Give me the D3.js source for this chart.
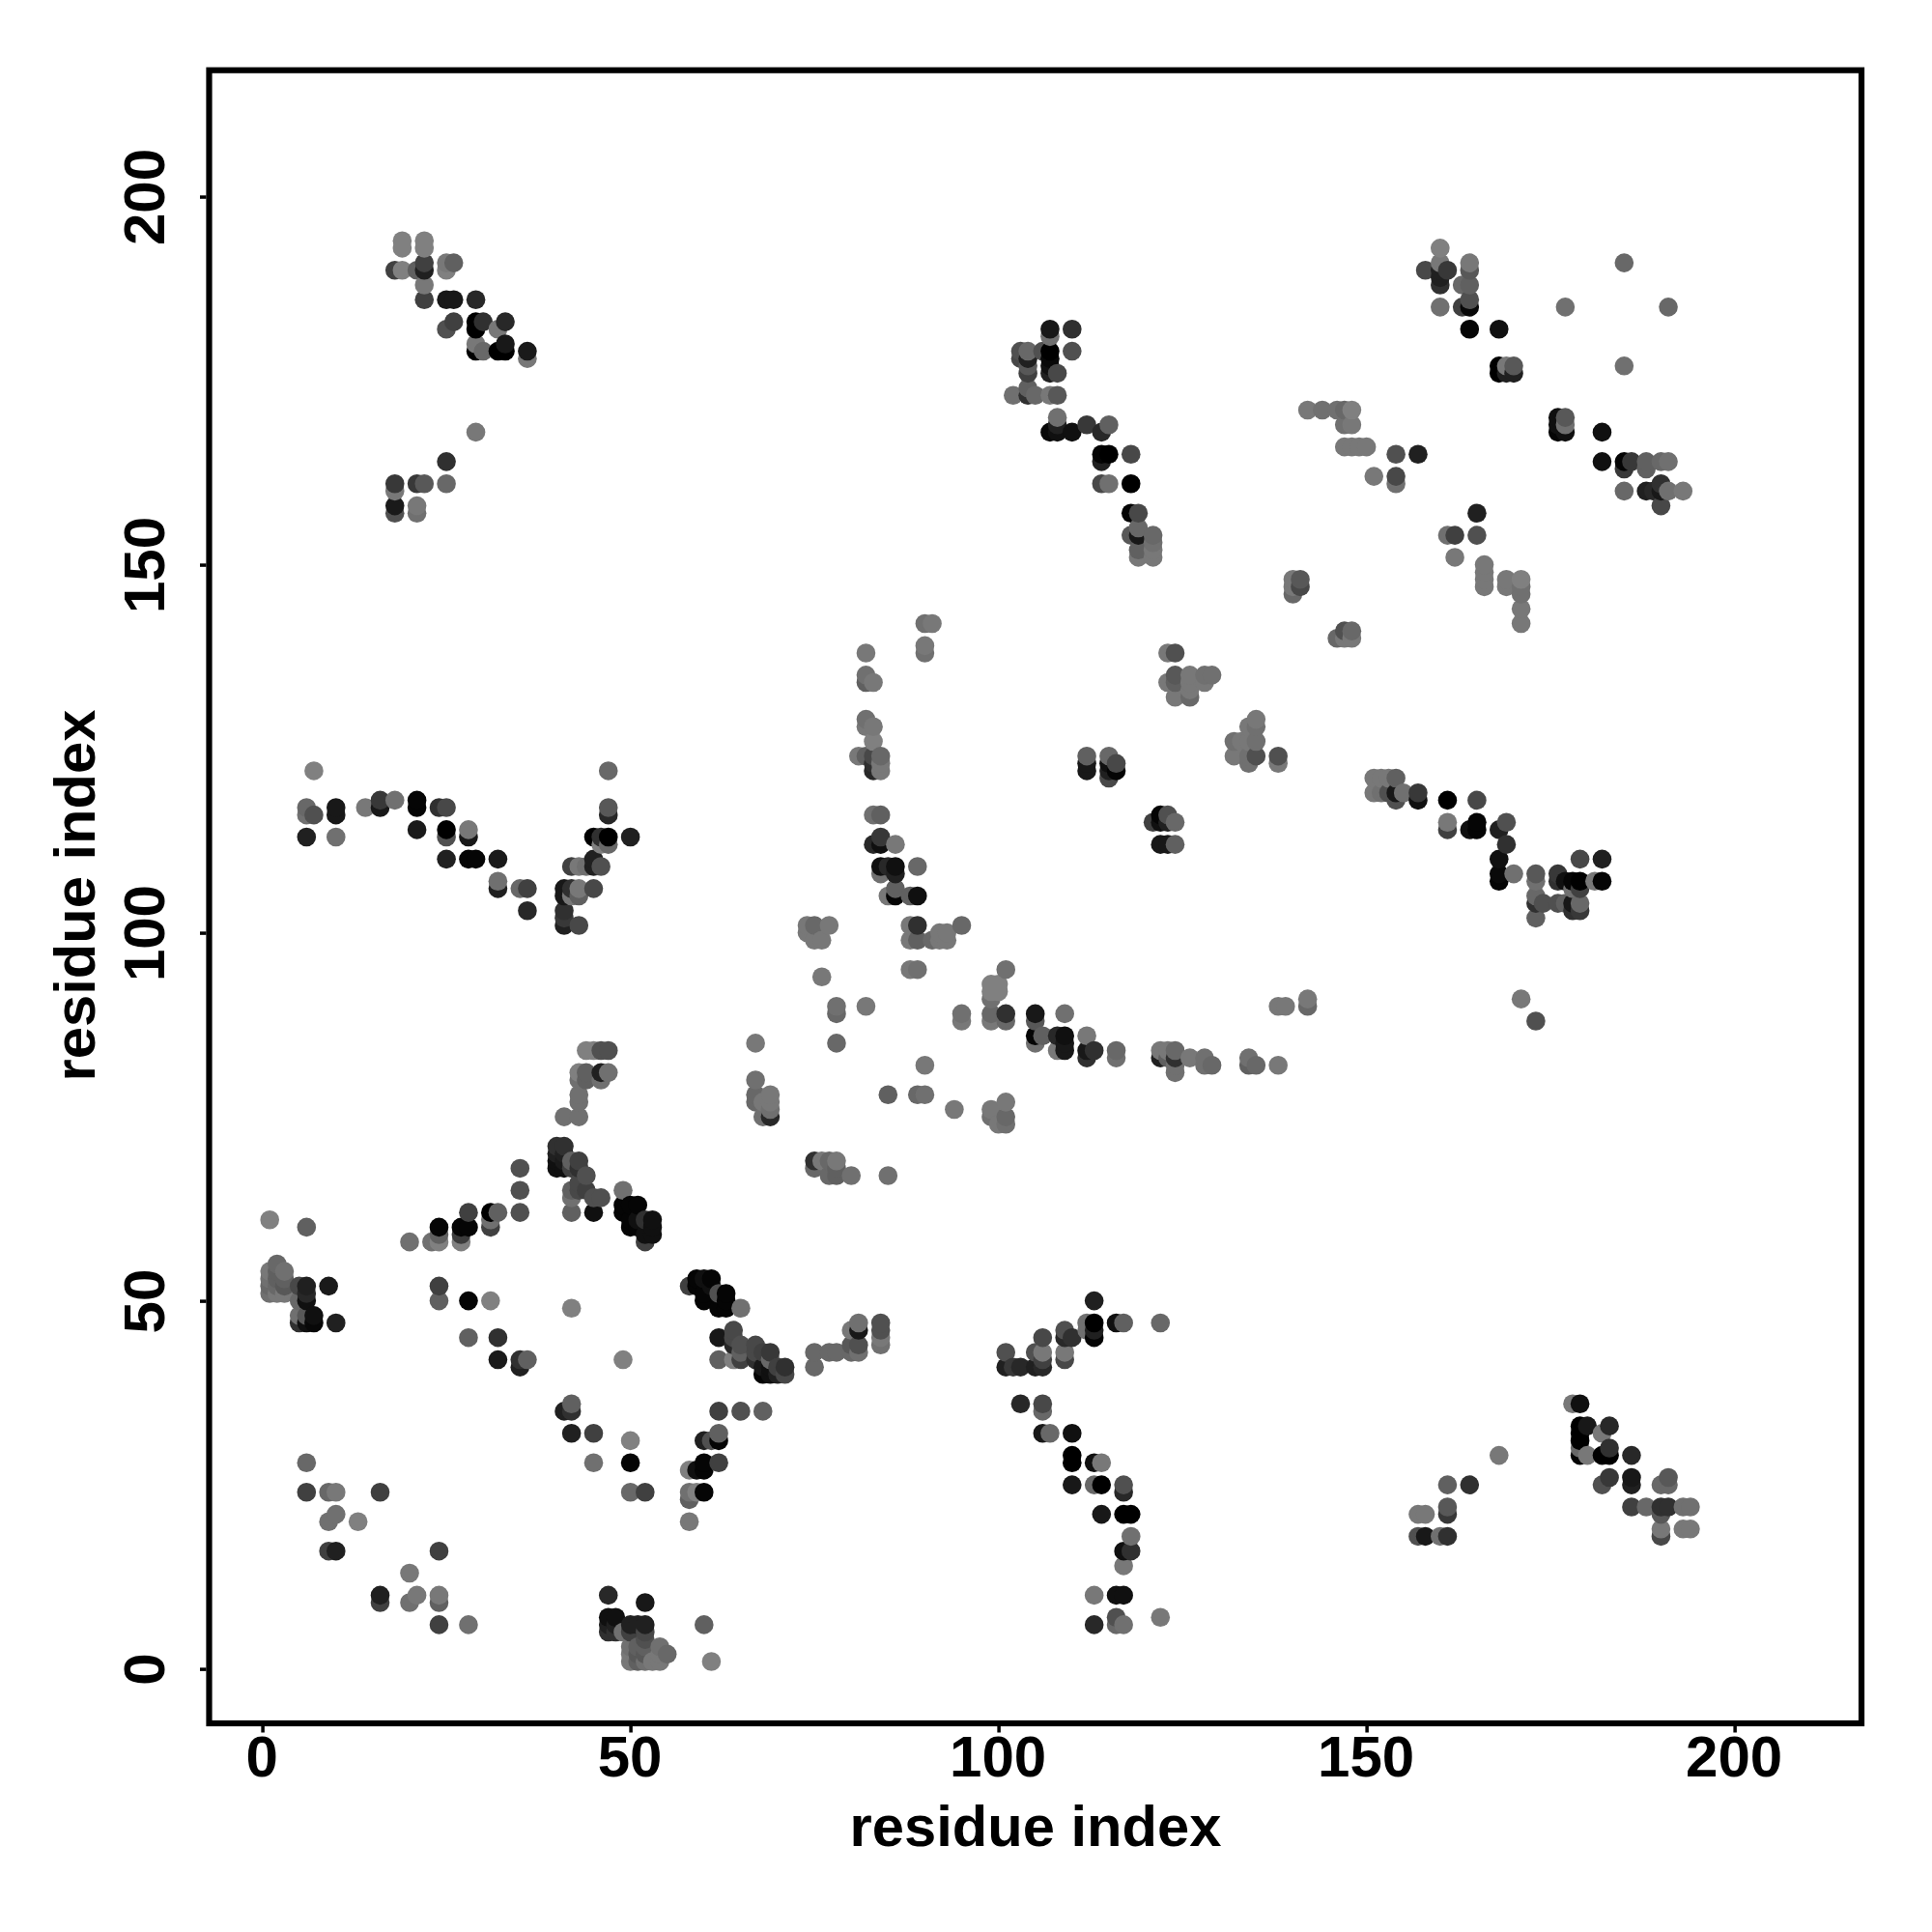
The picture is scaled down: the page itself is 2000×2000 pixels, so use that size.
<!DOCTYPE html>
<html>
<head>
<meta charset="utf-8">
<script src="https://cdnjs.cloudflare.com/ajax/libs/d3/7.8.5/d3.min.js"></script>
<style>
html,body{margin:0;padding:0;background:#fff}
svg{display:block}
text{font-family:"Liberation Sans",Arial,Helvetica,sans-serif;font-weight:bold;fill:#000}
</style>
</head>
<body>
<script>
// each entry: [residue i, residue j, grey level 0..128]
const tickValues = [0, 50, 100, 150, 200];
const xAxisTitle = "residue index";
const yAxisTitle = "residue index";

const helixStart = [[1,61,128],[6,60,96],[1,54,120],[1,53,112],[1,52,104],[1,51,112],[2,55,104],[2,54,96],[2,53,96],[2,52,104],[2,51,120],[3,54,112],[3,53,96],[3,52,88],[3,51,120],
[5,52,72],[5,50,104],[5,48,112],[5,47,48],[6,52,32],[6,51,40],[6,50,16],[6,48,88],[6,47,16],[7,48,16],[7,47,8],[9,52,26],[10,47,32],
[20,58,112],[23,58,112],[24,60,5],[24,59,96],[24,58,128],[27,60,5],[27,59,60],[27,58,128],[28,60,5],[28,62,64],[31,62,0],[31,61,112],[31,60,64],[32,62,96],[35,62,80],[35,65,80],[35,68,80],
[24,52,64],[24,50,96],[28,50,5],[31,50,128],[28,45,96],[32,45,48],[32,42,26],[35,42,48],[35,41,32],[36,42,96]];

const strandTop = [[44,84,128],[45,84,128],[46,84,80],[47,84,80],[43,81,128],[44,81,96],[43,80,112],[44,80,96],[46,81,32],[46,80,112],[47,81,112],[43,78,112],[43,77,112],[41,75,112],[43,75,112],
[40,71,48],[40,70,32],[40,69,16],[40,68,16],[41,71,48],[41,70,32],[41,69,26],[41,68,16],[42,69,96],[42,68,64],[43,69,64],[43,68,48],[44,67,80],[43,66,72],[42,65,96],[43,65,72],[42,64,112],[42,62,96],[44,65,64],[45,64,80],[46,64,80],[45,62,16],
[49,65,112],[49,63,5],[49,62,5],[50,63,5],[51,63,5],[50,61,5],[50,60,5],[51,61,16],[51,60,5],[52,61,48],[52,59,16],[52,58,64],[53,61,16],[53,60,16],[53,59,16]];

const helixMiddle = [[58,52,64],[59,53,5],[60,53,16],[61,53,5],[59,52,5],[60,51,5],[60,50,5],[61,52,16],[62,51,80],[63,51,5],[63,50,5],[62,49,5],[63,49,5],[65,49,112],
[62,45,24],[64,46,72],[64,45,72],[64,44,40],[65,44,80],[65,43,96],[65,42,64],[64,42,128],[62,42,96],[67,44,72],[67,43,72],[67,42,48],[68,43,64],[69,43,56],[68,41,24],[68,40,5],[69,42,104],[69,41,16],[69,40,16],[70,41,64],[70,40,32],[71,41,48],[71,40,72],
[42,49,128],[49,42,128],[75,43,104],[75,41,104],[77,43,104],[78,43,104],[80,44,88],[80,43,104],[80,46,120],[81,47,112],[81,46,24],[81,44,80],[81,43,112],[84,47,80],[84,46,80],[84,45,120],[84,44,112]];

const lowerLeft = [[41,35,32],[42,35,48],[42,36,96],[42,32,32],[45,32,64],[45,28,112],[50,31,128],[50,28,5],[50,24,104],[52,24,64],[62,35,64],[65,35,80],[68,35,96],
[60,31,32],[61,31,80],[62,31,5],[62,32,96],[58,27,128],[59,27,16],[60,27,5],[60,28,5],[62,28,64],[58,24,112],[58,23,96],[59,24,128],[60,24,5],[58,20,120],
[6,28,104],[6,24,64],[9,24,104],[10,24,120],[16,24,64],[9,20,112],[10,21,112],[13,20,128],[9,16,64],[10,16,32],[24,16,64],[20,13,120],[16,10,32],[16,9,64],[21,10,120],[20,9,112],[24,10,120],[24,9,96],[24,6,64],[28,6,112]];

const bottomCluster = [[47,10,40],[52,9,24],[47,7,16],[48,7,16],[47,6,32],[48,6,32],[47,5,48],[48,5,48],[49,5,112],[50,6,32],[51,6,32],[52,6,32],[50,5,64],[52,5,72],[52,4,80],
[50,3,112],[50,2,120],[50,1,120],[51,3,96],[51,2,88],[51,1,96],[52,3,96],[52,2,88],[52,1,112],[53,1,120],[54,3,112],[54,2,120],[54,1,120],[55,2,104],[60,6,96],[61,1,128]];

const upperLeft = [[19,194,128],[19,193,128],[22,194,128],[22,193,128],[18,190,64],[19,190,128],[21,190,96],[22,191,64],[22,190,32],[22,188,120],[22,186,64],[25,191,120],[25,190,128],[26,191,96],
[25,186,24],[26,186,24],[29,186,40],[25,182,80],[26,183,64],[29,183,0],[29,182,0],[30,183,48],[32,182,120],[33,183,40],[29,180,120],[29,179,0],[30,179,104],[32,179,0],[33,179,0],[33,180,24],[36,179,26],[36,178,120],
[29,168,120],[25,164,48],[25,161,104],[21,161,56],[22,161,88],[18,161,56],[18,160,120],[18,158,26],[18,157,80],[21,158,120],[21,157,112]];

const leftValley = [[7,122,128],[6,117,104],[6,116,112],[7,116,80],[10,117,24],[10,116,24],[6,113,32],[10,113,112],[14,117,120],[16,118,56],[16,117,24],[18,118,112],[21,118,5],[21,117,5],[21,114,26],
[24,117,48],[25,117,72],[25,114,0],[25,113,80],[28,114,120],[28,113,24],[25,110,32],[28,110,5],[29,110,5],[32,110,26],[32,107,112],[32,106,32],[35,106,104],[36,106,64],[36,103,40],
[41,106,24],[41,105,24],[41,103,48],[41,102,56],[41,101,32],[43,101,72],[42,106,48],[42,105,120],[43,106,120],[43,105,96],[45,106,72],[42,109,64],[43,109,120],[44,109,112],[45,110,32],[45,109,32],[46,109,80],
[45,113,0],[46,113,48],[46,112,128],[47,112,104],[47,113,0],[50,113,32],[47,116,40],[47,117,88],[47,122,104]];

const centerColumn = [[90,142,112],[91,142,120],[90,139,120],[90,138,112],[82,138,120],[82,135,112],[82,134,96],[83,134,120],[82,129,112],[82,128,120],[83,128,120],[83,126,128],[81,124,120],[82,124,96],[83,124,72],[84,124,104],[83,123,48],[84,123,120],[83,122,40],[84,122,120],
[83,116,112],[84,116,96],[83,112,40],[84,113,56],[84,112,16],[86,112,120],[84,109,16],[84,108,112],[85,109,40],[86,109,16],[86,108,32],[89,109,104],[85,105,120],[86,106,96],[86,105,5],[88,105,96],[89,105,16],
[74,101,120],[75,101,104],[77,101,120],[74,100,120],[75,99,120],[76,99,120],[88,101,120],[89,101,48],[88,99,120],[89,99,96],[91,99,104],[92,100,120],[92,99,120],[93,100,120],[93,99,120],[95,101,104],
[76,94,120],[88,95,120],[89,95,112],[78,90,112],[78,89,104],[82,90,120],[78,85,104]];

const centerLower = [[95,89,112],[95,88,120],[101,95,112],[99,93,128],[100,93,128],[99,92,128],[100,92,128],[99,91,112],[99,89,104],[99,88,120],[101,89,48],[101,88,104],
[105,89,24],[105,88,88],[109,89,112],[105,86,5],[105,85,112],[106,86,96],[108,86,40],[109,86,16],[108,84,120],[109,85,24],[109,84,24],[112,86,120],[112,84,24],[112,83,48],[113,84,48],[116,84,104],[116,83,112],
[122,84,120],[122,83,32],[123,84,120],[123,83,96],[124,84,104],[124,83,48],[124,82,112],[124,81,112],[126,83,120],[128,83,112],[128,82,112],[129,82,104],[134,83,112],[134,82,96],[135,82,104],[138,82,120],[138,90,120],[139,90,120],[142,91,120],[142,90,104],
[75,69,48],[75,68,104],[76,69,120],[77,69,104],[78,69,120],[77,67,104],[78,68,96],[78,67,96],[80,67,112],[85,67,112],[90,82,120],[85,78,96],[89,78,104],[90,78,112],[94,76,120],[101,77,120],[99,76,120],[99,75,112],[101,75,104],[100,74,120],[101,74,112],
[67,85,120],[67,80,112],[67,78,104],[67,77,104],[68,75,112],[69,78,120],[68,77,120],[69,77,120],[69,76,112],[69,75,40],[171,91,120],[173,88,80]];

const centerPairs = [[112,124,96],[112,123,24],[112,122,24],[115,124,104],[115,123,16],[115,122,32],[115,121,72],[116,123,72],[116,122,5],[121,115,64],[122,116,5],[122,115,16],[123,116,80],[123,115,32],[124,115,104],[122,112,24],[123,112,24],[124,112,96],
[123,138,120],[124,138,80],[123,134,120],[124,135,88],[124,134,96],[124,132,120],[126,135,120],[126,134,120],[126,133,120],[126,132,104],[128,135,112],[128,134,120],[129,135,112],
[135,129,120],[134,128,120],[135,128,112],[132,126,112],[133,126,120],[134,126,120],[135,126,112],[132,124,120],[134,124,112],[134,123,112],[135,124,80],[138,124,80],[138,123,120]];

const upperMiddle = [[107,182,24],[107,181,112],[110,182,48],[103,179,80],[104,179,104],[103,178,72],[104,178,32],[104,177,88],[104,176,64],[106,179,80],[107,179,0],[107,178,8],[107,177,16],[107,176,32],[108,176,72],[110,179,80],
[102,173,112],[104,174,96],[104,173,48],[105,173,104],[107,173,120],[108,173,88],[108,170,112],[107,168,8],[108,169,32],[108,168,16],[110,168,16],[112,169,56],[114,168,40],[115,169,96],
[114,165,5],[115,165,0],[114,164,32],[118,165,72],[114,161,72],[115,161,112],[118,161,0],[118,157,5],[119,157,72],[118,154,88],[119,155,104],[119,154,24],[119,152,96],[119,151,120],[121,154,104],[121,153,112],[121,152,120],[121,151,120]];

const upperRight = [[160,193,128],[160,191,120],[160,190,32],[160,189,32],[160,188,48],[158,190,72],[161,190,56],[164,191,120],[164,190,88],[163,188,104],[164,188,96],[164,186,80],[164,185,8],[163,185,64],[160,185,112],
[164,182,5],[168,182,16],[168,177,0],[168,176,0],[169,177,120],[169,176,32],[170,177,88],[170,176,32],[185,191,104],[177,185,112],[191,185,104],[185,177,112],
[142,171,120],[144,171,112],[146,171,112],[147,171,104],[148,171,128],[147,169,112],[148,169,120],[147,166,120],[148,166,120],[149,166,120],[150,166,120],[154,165,80],[157,165,32],[151,162,120],[154,162,72],[154,161,112],
[176,170,16],[176,169,16],[176,168,5],[177,170,88],[177,169,112],[177,168,16],[182,168,16],[182,164,16],[185,164,5],[185,163,56],[186,164,56],[188,164,96],[188,163,96],[190,164,104],[191,164,112],
[185,160,104],[188,160,32],[189,160,40],[190,161,48],[190,160,24],[191,160,112],[193,160,120],[190,158,72],
[165,157,32],[165,154,80],[161,154,112],[162,154,64],[162,151,120],[166,150,120],[166,149,120],[166,148,120],[166,147,120],[169,148,120],[169,147,120],[171,148,128],[171,147,112],[171,146,112],[171,144,120],[171,142,120],
[140,148,120],[140,147,120],[140,146,104],[141,148,88],[141,147,72],[146,140,104],[147,141,80],[147,140,120],[148,141,104],[148,140,120]];

const rightStrand = [[151,121,120],[152,121,120],[153,121,120],[154,121,96],[151,119,120],[152,119,112],[153,119,80],[154,119,24],[154,118,80],[155,119,112],[157,119,56],[157,118,16],[161,118,0],[165,118,72],
[161,115,120],[161,114,64],[164,114,16],[165,115,5],[165,114,5],[168,114,32],[169,115,80],[169,112,48],[168,110,16],[168,108,10],[168,107,5],[170,108,112],
[173,108,88],[173,107,112],[173,105,104],[173,104,48],[173,102,96],[174,104,80],[176,108,56],[176,107,48],[177,107,16],[178,107,5],[179,107,0],[179,106,64],[178,106,112],[179,110,72],[182,110,32],[181,107,120],[182,107,5],
[176,104,80],[177,104,96],[178,104,24],[178,103,48],[179,104,104],[179,103,56]];

const lowerMiddle = [[113,50,32],[113,47,0],[112,47,112],[113,46,32],[112,46,112],[113,45,5],[116,47,16],[117,47,96],[122,47,104],[109,46,80],[110,45,48],[109,45,40],[109,43,120],[109,42,72],
[106,45,72],[105,43,80],[106,43,120],[106,42,64],[106,41,40],[105,41,32],[101,43,80],[101,41,32],[102,41,56],[103,41,40],[103,36,40],[106,36,72],[106,35,104],[106,32,24],[107,32,104],[110,32,16],
[110,29,0],[110,28,0],[113,28,16],[114,28,120],[110,25,24],[113,25,104],[114,25,0],[117,25,80],[117,24,40],[114,21,24],[117,21,0],[118,21,0],[118,18,112],[117,16,16],[118,16,48],[117,14,120],
[113,10,120],[116,10,16],[117,10,16],[113,6,40],[116,7,80],[116,6,104],[117,6,112],[122,7,120]];

const lowerRight = [[178,36,120],[179,36,16],[179,33,0],[180,33,24],[179,32,0],[179,31,0],[183,33,40],[182,32,120],[183,30,48],[179,30,104],[180,29,120],[179,29,5],[182,29,0],[183,29,0],[186,29,40],
[183,26,56],[182,25,80],[186,26,24],[186,25,32],[191,26,88],[190,25,104],[191,25,104],[186,22,64],[188,22,104],[190,22,48],[191,22,48],[193,22,112],[194,22,112],[190,21,88],[190,19,120],[190,18,72],[193,19,120],[194,19,120],
[168,29,120],[161,25,96],[164,25,48],[161,22,88],[161,21,56],[157,21,120],[158,21,120],[157,18,80],[158,18,24],[160,18,112],[161,18,48]];

const contacts = [].concat(helixStart, strandTop, helixMiddle, lowerLeft, bottomCluster, upperLeft, leftValley,
  centerColumn, centerLower, centerPairs, upperMiddle, upperRight, rightStrand, lowerMiddle, lowerRight)
  .sort((a, b) => d3.ascending(a[0], b[0]) || d3.ascending(a[1], b[1]));

const width = 2000, height = 2000;
const box = {left: 216.5, right: 1927, top: 72.7, bottom: 1784};
const x = d3.scaleLinear().domain([-7.23, 217.24]).range([box.left, box.right]);
const y = d3.scaleLinear().domain([-7.4, 217.17]).range([box.bottom, box.top]);
const shade = d3.scaleLinear().domain([0, 255]).range(["#000000", "#ffffff"]);

const svg = d3.select("body").append("svg").attr("width", width).attr("height", height);
svg.append("rect").attr("width", width).attr("height", height).attr("fill", "#fff");

svg.append("g").selectAll("circle").data(contacts).join("circle")
  .attr("cx", d => x(d[0]))
  .attr("cy", d => y(d[1]))
  .attr("r", 9.8)
  .attr("fill", d => shade(d[2]));

const xAxis = svg.append("g").attr("transform", `translate(0,${box.bottom + 3})`)
  .call(d3.axisBottom(x).tickValues(tickValues).tickSize(6.5).tickPadding(10).tickFormat(d3.format("d")));
const yAxis = svg.append("g").attr("transform", `translate(${box.left - 3},0)`)
  .call(d3.axisLeft(y).tickValues(tickValues).tickSize(6.5).tickPadding(0).tickFormat(d3.format("d")));
xAxis.select(".domain").remove();
yAxis.select(".domain").remove();
xAxis.selectAll("line").attr("stroke", "#000").attr("stroke-width", 3.5);
yAxis.selectAll("line").attr("stroke", "#000").attr("stroke-width", 3.5);
xAxis.selectAll("text").attr("font-size", 60).attr("font-family", null).attr("dy", null)
  .attr("text-anchor", "middle").attr("x", -1).attr("y", 1839 - box.bottom - 3);
yAxis.selectAll("text").attr("font-size", 60).attr("font-family", null).attr("x", null).attr("dy", null)
  .attr("text-anchor", "middle")
  .attr("transform", `translate(${170 - box.left + 3},0) rotate(-90)`);

svg.append("rect")
  .attr("x", box.left).attr("y", box.top)
  .attr("width", box.right - box.left).attr("height", box.bottom - box.top)
  .attr("fill", "none").attr("stroke", "#000").attr("stroke-width", 6.2);

svg.append("text").attr("x", 1072).attr("y", 1911).attr("text-anchor", "middle").attr("font-size", 59.7).text(xAxisTitle);
svg.append("text").attr("transform", "translate(98,927) rotate(-90)").attr("text-anchor", "middle").attr("font-size", 59.7).text(yAxisTitle);
</script>
</body>
</html>
